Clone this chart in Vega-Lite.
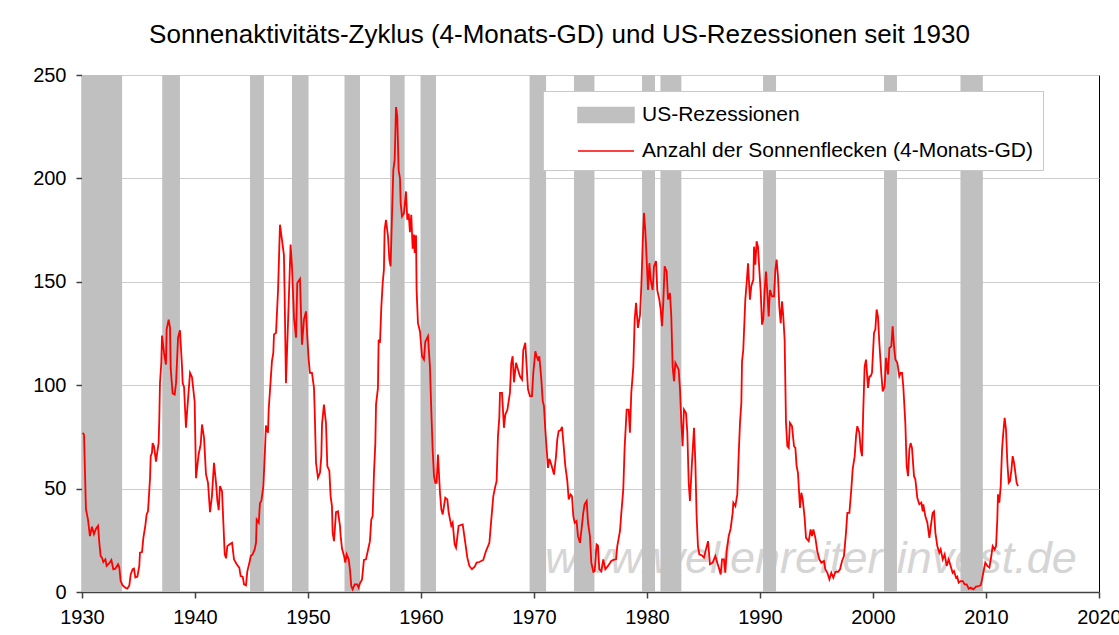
{
"$schema": "https://vega.github.io/schema/vega-lite/v6.json",
"width": 1017,
"height": 517,
"autosize": "none",
"padding": {"left": 82, "top": 75, "right": 20, "bottom": 43},
"background": "#ffffff",
"title": {"text": "Sonnenaktivitäts-Zyklus (4-Monats-GD) und US-Rezessionen seit 1930", "font": "Liberation Sans", "fontSize": 26, "fontWeight": "normal", "color": "#000000", "anchor": "middle", "dx": -31, "offset": 17},
"config": {
  "view": {"stroke": "#000000", "strokeWidth": 1},
  "axis": {"labelFont": "Liberation Sans", "labelFontSize": 20, "labelColor": "#000000", "domainColor": "#404040", "domainWidth": 1.5, "tickColor": "#404040", "tickWidth": 1.5, "tickSize": 6, "title": null}
},
"datasets": {
"rez": [
{"start": 1930.0, "end": 1933.55},
{"start": 1937.1, "end": 1938.67},
{"start": 1944.87, "end": 1946.1},
{"start": 1948.58, "end": 1950.05},
{"start": 1953.23, "end": 1954.6},
{"start": 1957.26, "end": 1958.55},
{"start": 1959.96, "end": 1961.33},
{"start": 1969.61, "end": 1971.07},
{"start": 1973.54, "end": 1975.35},
{"start": 1979.56, "end": 1980.71},
{"start": 1981.19, "end": 1983.04},
{"start": 1990.27, "end": 1991.42},
{"start": 2000.97, "end": 2002.12},
{"start": 2007.74, "end": 2009.72}
],
"sun": [
{"t":1930.06,"v":77},{"t":1930.18,"v":76},{"t":1930.35,"v":40},{"t":1930.53,"v":35},{"t":1930.7,"v":27},{"t":1930.88,"v":31.6},{"t":1931.06,"v":28},{"t":1931.24,"v":30.6},{"t":1931.42,"v":32},{"t":1931.53,"v":24},{"t":1931.65,"v":17.4},{"t":1931.77,"v":16.6},{"t":1931.89,"v":14.5},{"t":1932.07,"v":15.8},{"t":1932.18,"v":12.6},{"t":1932.42,"v":14},{"t":1932.6,"v":15.5},{"t":1932.77,"v":11},{"t":1932.95,"v":11.3},{"t":1933.19,"v":13.4},{"t":1933.3,"v":12},{"t":1933.42,"v":5.3},{"t":1933.6,"v":3.2},{"t":1933.83,"v":2.1},{"t":1934.01,"v":1.6},{"t":1934.19,"v":3.2},{"t":1934.31,"v":8.5},{"t":1934.48,"v":11},{"t":1934.6,"v":11.3},{"t":1934.72,"v":7},{"t":1934.9,"v":7.4},{"t":1935.07,"v":12.6},{"t":1935.13,"v":19},{"t":1935.31,"v":19.3},{"t":1935.43,"v":26.2},{"t":1935.6,"v":32},{"t":1935.72,"v":37.5},{"t":1935.84,"v":39},{"t":1935.96,"v":49.6},{"t":1936.02,"v":55},{"t":1936.08,"v":65.7},{"t":1936.19,"v":67.3},{"t":1936.25,"v":72},{"t":1936.37,"v":70.5},{"t":1936.55,"v":63},{"t":1936.67,"v":68},{"t":1936.78,"v":72},{"t":1936.84,"v":83.4},{"t":1936.9,"v":101},{"t":1937.02,"v":111},{"t":1937.08,"v":124},{"t":1937.26,"v":115.6},{"t":1937.43,"v":110},{"t":1937.49,"v":127},{"t":1937.67,"v":131.7},{"t":1937.79,"v":127.7},{"t":1937.85,"v":108},{"t":1938.02,"v":96},{"t":1938.2,"v":95.5},{"t":1938.32,"v":101},{"t":1938.38,"v":108},{"t":1938.5,"v":123},{"t":1938.67,"v":126.6},{"t":1938.85,"v":109},{"t":1938.91,"v":101},{"t":1939.03,"v":99.2},{"t":1939.2,"v":79.4},{"t":1939.38,"v":93},{"t":1939.56,"v":106},{"t":1939.73,"v":104},{"t":1939.97,"v":92},{"t":1940.09,"v":55},{"t":1940.32,"v":66.5},{"t":1940.5,"v":71.3},{"t":1940.62,"v":81},{"t":1940.8,"v":74.6},{"t":1940.97,"v":57},{"t":1941.15,"v":52.8},{"t":1941.33,"v":38.6},{"t":1941.5,"v":46.4},{"t":1941.68,"v":62.5},{"t":1941.86,"v":52.8},{"t":1941.98,"v":44},{"t":1942.1,"v":39.6},{"t":1942.21,"v":51.2},{"t":1942.39,"v":48.8},{"t":1942.51,"v":33.5},{"t":1942.63,"v":18.2},{"t":1942.75,"v":16.3},{"t":1942.86,"v":22.2},{"t":1943.04,"v":23},{"t":1943.28,"v":23.8},{"t":1943.45,"v":15.8},{"t":1943.69,"v":13.4},{"t":1943.92,"v":11.8},{"t":1944.04,"v":7.7},{"t":1944.22,"v":7.4},{"t":1944.34,"v":3.7},{"t":1944.51,"v":3.2},{"t":1944.63,"v":10},{"t":1944.81,"v":14},{"t":1944.93,"v":17.4},{"t":1945.1,"v":18.2},{"t":1945.28,"v":20.6},{"t":1945.4,"v":23.8},{"t":1945.46,"v":35},{"t":1945.64,"v":33.5},{"t":1945.75,"v":43},{"t":1945.87,"v":44},{"t":1946.05,"v":51.2},{"t":1946.17,"v":65.7},{"t":1946.28,"v":80.5},{"t":1946.46,"v":77},{"t":1946.52,"v":88},{"t":1946.7,"v":102.7},{"t":1946.81,"v":111.6},{"t":1946.93,"v":115.6},{"t":1946.99,"v":124.5},{"t":1947.17,"v":125.3},{"t":1947.35,"v":146},{"t":1947.52,"v":177.6},{"t":1947.7,"v":170},{"t":1947.87,"v":163},{"t":1947.93,"v":144.6},{"t":1948.05,"v":101},{"t":1948.23,"v":130},{"t":1948.35,"v":149.4},{"t":1948.46,"v":168},{"t":1948.58,"v":157.5},{"t":1948.76,"v":132.5},{"t":1948.94,"v":123},{"t":1949.05,"v":149.4},{"t":1949.29,"v":151.4},{"t":1949.47,"v":119.6},{"t":1949.64,"v":131.7},{"t":1949.82,"v":135.7},{"t":1949.94,"v":123},{"t":1950.06,"v":112.4},{"t":1950.17,"v":106},{"t":1950.35,"v":106},{"t":1950.53,"v":98.7},{"t":1950.59,"v":88},{"t":1950.71,"v":62.5},{"t":1950.88,"v":55.2},{"t":1951.06,"v":57.6},{"t":1951.18,"v":65.7},{"t":1951.24,"v":81},{"t":1951.41,"v":90.6},{"t":1951.59,"v":81.8},{"t":1951.71,"v":60.9},{"t":1951.89,"v":58.5},{"t":1952.0,"v":46.4},{"t":1952.12,"v":41.5},{"t":1952.18,"v":28.7},{"t":1952.3,"v":24.6},{"t":1952.48,"v":38.6},{"t":1952.65,"v":39},{"t":1952.83,"v":32},{"t":1952.89,"v":27},{"t":1953.01,"v":21},{"t":1953.18,"v":17.7},{"t":1953.3,"v":14.2},{"t":1953.42,"v":18.2},{"t":1953.6,"v":15.8},{"t":1953.71,"v":11},{"t":1953.83,"v":2.9},{"t":1953.95,"v":1.3},{"t":1954.13,"v":3.7},{"t":1954.36,"v":3.7},{"t":1954.48,"v":2.1},{"t":1954.6,"v":4.2},{"t":1954.78,"v":6.1},{"t":1954.95,"v":15.5},{"t":1955.13,"v":15.8},{"t":1955.31,"v":20.3},{"t":1955.48,"v":24.6},{"t":1955.6,"v":35},{"t":1955.72,"v":36.7},{"t":1955.84,"v":57.6},{"t":1955.96,"v":72},{"t":1956.02,"v":90.6},{"t":1956.19,"v":98.7},{"t":1956.25,"v":122},{"t":1956.37,"v":120.5},{"t":1956.49,"v":138},{"t":1956.61,"v":149.4},{"t":1956.72,"v":156},{"t":1956.78,"v":175},{"t":1956.9,"v":180},{"t":1957.08,"v":172},{"t":1957.2,"v":160.7},{"t":1957.31,"v":157.5},{"t":1957.43,"v":181.6},{"t":1957.55,"v":204},{"t":1957.67,"v":209},{"t":1957.79,"v":234.5},{"t":1957.9,"v":230},{"t":1958.02,"v":204},{"t":1958.14,"v":200},{"t":1958.2,"v":188},{"t":1958.32,"v":181.6},{"t":1958.49,"v":183},{"t":1958.67,"v":193.7},{"t":1958.79,"v":180},{"t":1958.91,"v":183},{"t":1959.02,"v":174},{"t":1959.14,"v":182.4},{"t":1959.26,"v":166},{"t":1959.38,"v":172.8},{"t":1959.44,"v":164},{"t":1959.56,"v":172.5},{"t":1959.61,"v":146},{"t":1959.73,"v":130},{"t":1959.91,"v":126},{"t":1960.09,"v":114},{"t":1960.26,"v":112.4},{"t":1960.38,"v":121},{"t":1960.62,"v":123.7},{"t":1960.79,"v":109},{"t":1960.91,"v":88},{"t":1961.03,"v":69},{"t":1961.15,"v":56},{"t":1961.27,"v":52.8},{"t":1961.38,"v":52.8},{"t":1961.5,"v":66.5},{"t":1961.68,"v":48},{"t":1961.8,"v":40},{"t":1961.92,"v":37.5},{"t":1962.15,"v":45.6},{"t":1962.33,"v":44.8},{"t":1962.45,"v":38.3},{"t":1962.68,"v":32},{"t":1962.8,"v":33.5},{"t":1962.98,"v":23},{"t":1963.1,"v":21.4},{"t":1963.33,"v":32},{"t":1963.69,"v":32.7},{"t":1963.92,"v":23.8},{"t":1964.1,"v":16.6},{"t":1964.28,"v":12.6},{"t":1964.51,"v":11},{"t":1964.75,"v":12.2},{"t":1964.92,"v":14.2},{"t":1965.16,"v":14.5},{"t":1965.51,"v":15.5},{"t":1965.75,"v":19.8},{"t":1966.05,"v":23.8},{"t":1966.22,"v":35},{"t":1966.4,"v":46.4},{"t":1966.58,"v":51.2},{"t":1966.69,"v":53.6},{"t":1966.81,"v":75.4},{"t":1966.93,"v":84.2},{"t":1966.99,"v":96.3},{"t":1967.17,"v":96.3},{"t":1967.34,"v":79.4},{"t":1967.46,"v":85.8},{"t":1967.64,"v":88},{"t":1967.87,"v":96.3},{"t":1967.99,"v":110.8},{"t":1968.11,"v":114},{"t":1968.23,"v":101.4},{"t":1968.41,"v":110.8},{"t":1968.58,"v":107.6},{"t":1968.76,"v":104.3},{"t":1968.94,"v":102.7},{"t":1969.05,"v":117},{"t":1969.23,"v":120.5},{"t":1969.35,"v":109},{"t":1969.47,"v":98},{"t":1969.64,"v":94.7},{"t":1969.82,"v":94.7},{"t":1969.94,"v":106},{"t":1970.12,"v":116.4},{"t":1970.23,"v":114},{"t":1970.35,"v":112.4},{"t":1970.47,"v":114},{"t":1970.65,"v":102.7},{"t":1970.77,"v":92.3},{"t":1970.88,"v":90},{"t":1971.0,"v":78.6},{"t":1971.12,"v":69},{"t":1971.24,"v":60},{"t":1971.36,"v":64.4},{"t":1971.53,"v":61.7},{"t":1971.77,"v":56.8},{"t":1971.95,"v":65.7},{"t":1972.06,"v":73.8},{"t":1972.18,"v":77.8},{"t":1972.36,"v":78.3},{"t":1972.48,"v":79.9},{"t":1972.65,"v":69},{"t":1972.77,"v":61},{"t":1972.95,"v":53.6},{"t":1973.07,"v":44.8},{"t":1973.24,"v":47.2},{"t":1973.36,"v":46.4},{"t":1973.48,"v":36.7},{"t":1973.6,"v":33.5},{"t":1973.77,"v":34.3},{"t":1973.89,"v":27},{"t":1974.07,"v":23.8},{"t":1974.19,"v":29.5},{"t":1974.36,"v":38.3},{"t":1974.48,"v":42.4},{"t":1974.66,"v":44},{"t":1974.78,"v":33.5},{"t":1974.95,"v":27},{"t":1975.07,"v":14.2},{"t":1975.25,"v":9.7},{"t":1975.37,"v":10.1},{"t":1975.54,"v":23},{"t":1975.66,"v":22.5},{"t":1975.78,"v":11},{"t":1975.96,"v":10},{"t":1976.13,"v":15.8},{"t":1976.31,"v":11},{"t":1976.55,"v":12.6},{"t":1976.84,"v":15},{"t":1977.02,"v":15.5},{"t":1977.26,"v":15.8},{"t":1977.37,"v":22.2},{"t":1977.61,"v":29.5},{"t":1977.73,"v":38.3},{"t":1977.9,"v":49.6},{"t":1978.02,"v":69.7},{"t":1978.2,"v":88.2},{"t":1978.38,"v":88.2},{"t":1978.49,"v":77},{"t":1978.61,"v":96.3},{"t":1978.79,"v":109},{"t":1978.91,"v":131.7},{"t":1979.03,"v":139.8},{"t":1979.2,"v":127.7},{"t":1979.38,"v":134},{"t":1979.5,"v":148},{"t":1979.62,"v":168.8},{"t":1979.73,"v":183.3},{"t":1979.85,"v":175},{"t":1979.97,"v":160.7},{"t":1980.09,"v":146},{"t":1980.21,"v":159},{"t":1980.32,"v":151},{"t":1980.5,"v":146},{"t":1980.62,"v":157.5},{"t":1980.8,"v":160},{"t":1980.91,"v":146},{"t":1981.09,"v":141.4},{"t":1981.21,"v":136.6},{"t":1981.33,"v":128.5},{"t":1981.44,"v":139.8},{"t":1981.56,"v":157.5},{"t":1981.74,"v":155},{"t":1981.86,"v":141.4},{"t":1982.03,"v":144.6},{"t":1982.15,"v":133.3},{"t":1982.27,"v":109},{"t":1982.39,"v":102},{"t":1982.51,"v":110.8},{"t":1982.68,"v":109},{"t":1982.8,"v":107.6},{"t":1982.92,"v":98},{"t":1983.04,"v":81.8},{"t":1983.15,"v":70.5},{"t":1983.27,"v":88.2},{"t":1983.45,"v":86.6},{"t":1983.57,"v":77},{"t":1983.69,"v":52.8},{"t":1983.8,"v":44},{"t":1983.98,"v":62.5},{"t":1984.16,"v":79.4},{"t":1984.28,"v":62.5},{"t":1984.39,"v":36.7},{"t":1984.51,"v":22.2},{"t":1984.63,"v":18.2},{"t":1984.87,"v":17.7},{"t":1985.04,"v":16.6},{"t":1985.22,"v":20.6},{"t":1985.4,"v":24.6},{"t":1985.57,"v":13.4},{"t":1985.81,"v":14.2},{"t":1986.05,"v":17.4},{"t":1986.22,"v":14.2},{"t":1986.4,"v":11},{"t":1986.52,"v":8.5},{"t":1986.64,"v":15.8},{"t":1986.81,"v":15.8},{"t":1986.93,"v":9.3},{"t":1987.05,"v":19.8},{"t":1987.23,"v":27},{"t":1987.4,"v":30.6},{"t":1987.58,"v":38.3},{"t":1987.64,"v":43.2},{"t":1987.82,"v":41.5},{"t":1987.99,"v":47.2},{"t":1988.11,"v":65.7},{"t":1988.23,"v":81.8},{"t":1988.35,"v":91.5},{"t":1988.41,"v":111.6},{"t":1988.52,"v":117},{"t":1988.7,"v":141.4},{"t":1988.82,"v":149.4},{"t":1988.94,"v":159},{"t":1989.11,"v":141.4},{"t":1989.23,"v":148},{"t":1989.41,"v":151},{"t":1989.47,"v":167},{"t":1989.59,"v":158.3},{"t":1989.7,"v":169.6},{"t":1989.82,"v":167},{"t":1989.94,"v":155.9},{"t":1990.06,"v":145.4},{"t":1990.18,"v":129.3},{"t":1990.29,"v":131.7},{"t":1990.41,"v":146},{"t":1990.53,"v":155},{"t":1990.65,"v":144.6},{"t":1990.77,"v":133.3},{"t":1990.88,"v":146},{"t":1991.06,"v":143},{"t":1991.24,"v":143},{"t":1991.36,"v":155.9},{"t":1991.47,"v":160.7},{"t":1991.59,"v":152.7},{"t":1991.71,"v":138},{"t":1991.83,"v":130},{"t":1991.95,"v":140.6},{"t":1992.06,"v":133.3},{"t":1992.18,"v":122},{"t":1992.3,"v":81.8},{"t":1992.42,"v":70.5},{"t":1992.54,"v":69.7},{"t":1992.65,"v":81.8},{"t":1992.83,"v":80.2},{"t":1993.01,"v":70.5},{"t":1993.13,"v":69.7},{"t":1993.24,"v":60.9},{"t":1993.36,"v":57.6},{"t":1993.54,"v":40.7},{"t":1993.66,"v":48},{"t":1993.78,"v":44.8},{"t":1993.95,"v":35.9},{"t":1994.07,"v":26.2},{"t":1994.31,"v":24.6},{"t":1994.48,"v":30.3},{"t":1994.6,"v":27},{"t":1994.72,"v":30.3},{"t":1994.9,"v":26.2},{"t":1995.07,"v":19.8},{"t":1995.25,"v":15.8},{"t":1995.43,"v":14.2},{"t":1995.66,"v":15},{"t":1995.78,"v":11},{"t":1995.96,"v":9.3},{"t":1996.14,"v":6.1},{"t":1996.31,"v":9.3},{"t":1996.49,"v":6.9},{"t":1996.67,"v":9.7},{"t":1996.9,"v":9.7},{"t":1997.08,"v":11},{"t":1997.26,"v":15},{"t":1997.43,"v":17.4},{"t":1997.61,"v":28.7},{"t":1997.73,"v":38.3},{"t":1997.91,"v":38.3},{"t":1998.08,"v":49.6},{"t":1998.2,"v":59.3},{"t":1998.38,"v":65.7},{"t":1998.5,"v":75.4},{"t":1998.61,"v":80.2},{"t":1998.79,"v":77},{"t":1998.91,"v":69},{"t":1999.03,"v":65.7},{"t":1999.14,"v":88.2},{"t":1999.26,"v":109},{"t":1999.38,"v":112.4},{"t":1999.56,"v":98.7},{"t":1999.68,"v":104.3},{"t":1999.79,"v":104.3},{"t":1999.91,"v":106},{"t":2000.09,"v":125.4},{"t":2000.21,"v":127},{"t":2000.32,"v":136.6},{"t":2000.44,"v":133.3},{"t":2000.56,"v":120.5},{"t":2000.74,"v":105.2},{"t":2000.86,"v":97},{"t":2001.03,"v":99.5},{"t":2001.15,"v":113.2},{"t":2001.33,"v":105.2},{"t":2001.45,"v":118},{"t":2001.62,"v":118.8},{"t":2001.74,"v":128.5},{"t":2001.86,"v":118.8},{"t":2001.98,"v":112.4},{"t":2002.15,"v":110.8},{"t":2002.33,"v":104.3},{"t":2002.45,"v":106},{"t":2002.57,"v":106},{"t":2002.68,"v":99.5},{"t":2002.86,"v":81.8},{"t":2002.98,"v":60.9},{"t":2003.1,"v":56},{"t":2003.22,"v":69},{"t":2003.33,"v":72},{"t":2003.45,"v":69.7},{"t":2003.63,"v":56},{"t":2003.75,"v":54.4},{"t":2003.92,"v":45.6},{"t":2004.1,"v":42.4},{"t":2004.28,"v":43.2},{"t":2004.4,"v":39},{"t":2004.45,"v":42.4},{"t":2004.63,"v":36.7},{"t":2004.81,"v":33.5},{"t":2004.99,"v":26.2},{"t":2005.16,"v":33.5},{"t":2005.28,"v":38.3},{"t":2005.4,"v":39},{"t":2005.52,"v":28.7},{"t":2005.69,"v":22.2},{"t":2005.87,"v":19},{"t":2005.99,"v":20.6},{"t":2006.17,"v":15.8},{"t":2006.34,"v":18.2},{"t":2006.52,"v":12.6},{"t":2006.7,"v":15.8},{"t":2006.87,"v":12.6},{"t":2007.05,"v":9.3},{"t":2007.17,"v":10.1},{"t":2007.35,"v":6.9},{"t":2007.46,"v":7.4},{"t":2007.58,"v":4.5},{"t":2007.76,"v":5.3},{"t":2007.94,"v":5.3},{"t":2008.11,"v":3.7},{"t":2008.29,"v":3.7},{"t":2008.47,"v":1.6},{"t":2008.64,"v":2.1},{"t":2008.88,"v":1.3},{"t":2009.12,"v":2.6},{"t":2009.35,"v":2.9},{"t":2009.53,"v":3.2},{"t":2009.65,"v":6.1},{"t":2009.76,"v":9.3},{"t":2009.94,"v":14.2},{"t":2010.12,"v":12.6},{"t":2010.3,"v":11.8},{"t":2010.47,"v":17.4},{"t":2010.59,"v":22.2},{"t":2010.77,"v":20.6},{"t":2010.89,"v":22.2},{"t":2011.0,"v":35},{"t":2011.06,"v":47.2},{"t":2011.18,"v":43.2},{"t":2011.3,"v":51.2},{"t":2011.42,"v":69},{"t":2011.53,"v":77},{"t":2011.65,"v":84.2},{"t":2011.77,"v":78.6},{"t":2011.89,"v":62.5},{"t":2012.01,"v":52.8},{"t":2012.12,"v":53.6},{"t":2012.24,"v":58.5},{"t":2012.36,"v":65.7},{"t":2012.48,"v":62.5},{"t":2012.6,"v":57.6},{"t":2012.71,"v":52.8},{"t":2012.83,"v":51.2}
]
},
"layer": [
{
  "data": {"values": [{}]},
  "mark": {"type": "text", "text": "www.wellenreiter-invest.de", "font": "Liberation Sans", "fontSize": 45, "fontStyle": "italic", "color": "#c4c4c4", "opacity": 0.7, "align": "center", "baseline": "alphabetic"},
  "encoding": {
    "x": {"datum": 1994.5, "type": "quantitative"},
    "y": {"datum": 9, "type": "quantitative"}
  }
},
{
  "data": {"name": "rez"},
  "mark": {"type": "rect"},
  "encoding": {
    "x": {"field": "start", "type": "quantitative",
      "scale": {"domain": [1930, 2020], "nice": false, "zero": false},
      "axis": {"values": [1930, 1940, 1950, 1960, 1970, 1980, 1990, 2000, 2010, 2020], "format": "d", "grid": false, "labelPadding": 9, "labelFlush": false}},
    "x2": {"field": "end"},
    "color": {"datum": "US-Rezessionen", "type": "nominal",
      "scale": {"domain": ["US-Rezessionen", "Anzahl der Sonnenflecken (4-Monats-GD)"], "range": ["#c0c0c0", "#ff0000"]},
      "legend": {
        "title": null, "orient": "none", "legendX": 461, "legendY": 16, "direction": "vertical",
        "labelFont": "Liberation Sans", "labelFontSize": 21, "labelColor": "#000000", "labelLimit": 0,
        "strokeColor": "#c8c8c8", "fillColor": "#ffffff", "padding": 9, "rowPadding": 10,
        "symbolOffset": 39, "labelOffset": 21, "symbolSize": 784, "symbolStrokeWidth": 1.5,
        "symbolType": "M-2,0H2",
        "encode": {"symbols": {"update": {
          "shape": {"signal": "datum.value === 'US-Rezessionen' ? 'M-2,-0.54H2V0.54H-2Z' : 'M-2,0H2'"},
          "fill": {"signal": "datum.value === 'US-Rezessionen' ? '#c0c0c0' : 'transparent'"},
          "stroke": {"signal": "datum.value === 'US-Rezessionen' ? 'transparent' : '#ff0000'"},
          "strokeWidth": {"value": 1.5},
          "opacity": {"value": 1}
        }}}
      }
    }
  }
},
{
  "data": {"name": "sun"},
  "mark": {"type": "line", "strokeWidth": 1.8, "interpolate": "linear"},
  "encoding": {
    "x": {"field": "t", "type": "quantitative"},
    "y": {"field": "v", "type": "quantitative",
      "scale": {"domain": [0, 250], "nice": false},
      "axis": {"values": [0, 50, 100, 150, 200, 250], "grid": true, "gridColor": "#cccccc", "gridWidth": 1, "labelPadding": 10}},
    "color": {"datum": "Anzahl der Sonnenflecken (4-Monats-GD)", "type": "nominal"}
  }
}
]
}
